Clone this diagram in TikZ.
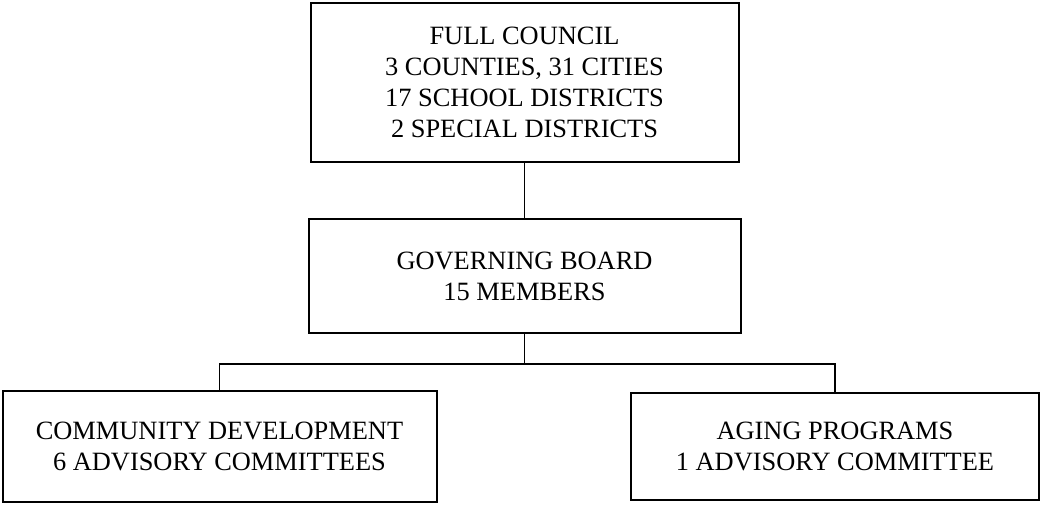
\documentclass[tikz,border=0pt]{standalone}
\usepackage{fontspec}
\setmainfont{Liberation Serif}
\usepackage{tikz}
\usetikzlibrary{positioning}

\begin{document}
\begin{tikzpicture}[
  x=1pt, y=1pt,
  font=\fontsize{26.4}{31}\selectfont,
  orgbox/.style={draw, line width=2pt, align=center, inner sep=0pt},
  link/.style={line width=1.5pt}
]
\useasboundingbox (0,0) rectangle (1044,-504);
\node[orgbox, minimum width=428, minimum height=159] (council) at (524.5,-82.5)
  {FULL COUNCIL\\3 COUNTIES, 31 CITIES\\17 SCHOOL DISTRICTS\\2 SPECIAL DISTRICTS};
\node[orgbox, minimum width=432, minimum height=114] (board) at (524.5,-276)
  {GOVERNING BOARD\\15 MEMBERS};
\node[orgbox, minimum width=434, minimum height=111] (commdev) at (219.5,-446.5)
  {COMMUNITY DEVELOPMENT\\6 ADVISORY COMMITTEES};
\node[orgbox, minimum width=408, minimum height=107] (aging) at (835,-446.5)
  {AGING PROGRAMS\\1 ADVISORY COMMITTEE};
\draw[link] (council.south) -- (board.north);
\draw[link] (board.south) -- ++(0,-30) coordinate (split);
\draw[link] (commdev.north) |- (split) -| (aging.north);
\end{tikzpicture}
\end{document}
